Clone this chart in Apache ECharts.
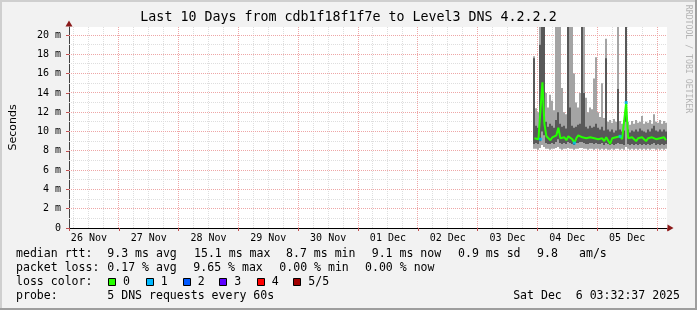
<!DOCTYPE html>
<html><head><meta charset="utf-8">
<script src="https://cdn.jsdelivr.net/npm/echarts@6/dist/echarts.min.js"></script>
<style>html,body{margin:0;padding:0;background:#f2f2f2}#c{width:697px;height:310px}</style>
</head><body><div id="c"></div>
<script>
// ---------------- data ----------------
const titleText = 'Last 10 Days from cdb1f18f1f7e to Level3 DNS 4.2.2.2';
const dayLabels = ['26 Nov','27 Nov','28 Nov','29 Nov','30 Nov','01 Dec','02 Dec','03 Dec','04 Dec','05 Dec'];
// hours since 26 Nov 00:00
const viewStartHour = 4;
const viewEndHour = 244;
const sampleStartHour = 190.8;
const sampleStepHours = 0.8;
// sorted pings per sample (ms)
const pingMin = [8.2,8.2,8.1,8.3,8.6,8.4,8.2,8.2,8.1,8.2, 8.2,8.3,8.4,8.2,8.1,8.2,8.2,8.3,8.2,8.2, 8.1,8.2,8.2,8.3,8.3,8.2,8.2,8.1,8.2,8.2, 8.1,8.2,8.2,8.1,8.2,8.1,8.2,8.1,8.1,8.2, 8.1,8.2,8.2,8.1,8.2,8.1,8.4,8.2,8.1,8.2, 8.1,8.2,8.1,8.2,8.1,8.2,8.1,8.2,8.1,8.2, 8.2,8.1,8.2,8.1,8.2,8.1,8.2];
const ping2 = [8.7,8.8,8.7,9.0,10.0,9.6,8.8,8.7,8.7,8.8, 8.7,8.9,9.2,8.8,8.7,8.8,8.7,8.9,8.8,8.7, 8.6,8.8,8.8,8.9,8.9,8.8,8.7,8.7,8.8,8.8, 8.7,8.8,8.7,8.7,8.8,8.6,8.8,8.7,8.6,8.7, 8.6,8.7,8.8,8.7,8.7,8.6,11.0,8.7,8.6,8.7, 8.6,8.7,8.6,8.7,8.6,8.7,8.6,8.7,8.6,8.7, 8.8,8.6,8.7,8.6,8.7,8.6,8.7];
const pingMedian = [9.3,9.4,9.2,9.2,15.1,10.8,9.5,9.3,9.1,9.4, 9.2,9.6,10.4,9.3,9.2,9.4,9.1,9.5,9.3,9.2, 8.8,9.3,9.6,9.8,9.4,9.2,9.3,9.1,9.4,9.2, 9.3,9.5,9.2,9.1,9.3,9.0,9.4,9.2,8.7,9.3, 9.1,9.4,9.3,9.5,9.2,9.0,13.0,9.3,9.1,9.4, 9.2,9.0,9.3,9.1,9.4,9.2,9.0,9.3,9.1,9.4, 9.6,9.2,9.0,9.3,9.2,9.4,9.1];
const ping4 = [17.6,10.6,10.4,19.0,24,24,11.0,10.5,10.8,10.6, 10.4,11.2,12.0,10.8,10.5,10.6,10.3,24,12.5,10.6, 10.4,10.5,10.7,10.8,24,14.0,10.5,10.3,10.6,10.4, 10.5,10.8,10.4,10.2,10.5,10.1,17.6,10.2,10.0,10.2, 9.9,10.1,14.4,10.2,10.0,10.1,24,10.2,9.9,10.1, 10.0,10.2,10.0,10.3,10.1,10.0,9.9,10.2,10.0,10.3, 10.6,10.1,10.0,10.2,10.0,10.2,10.0];
const pingMax = [17.8,12.4,12.0,24,24,24,14.0,12.5,13.8,13.2, 12.2,24,24,24,14.5,12.0,11.8,24,24,24, 16.0,13.0,12.5,14.0,24,24,13.5,12.0,12.5,12.3, 15.5,17.7,12.0,11.5,15.0,11.4,19.6,11.0,11.2,10.9, 11.3,11.0,24,11.1,10.8,11.2,24,11.0,10.7,11.1, 10.8,11.2,10.9,11.0,11.6,10.8,11.0,10.9,11.2,10.8, 11.8,11.0,10.9,11.2,10.8,11.1,10.9];
const lossCount = [0,0,0,1,0,0,0,0,0,0, 0,0,0,0,0,0,0,0,0,0, 1,0,0,0,0,0,0,0,0,0, 0,0,0,0,0,0,0,0,0,0, 0,0,0,1,0,0,1,0,0,0, 0,0,0,0,0,0,0,0,0,0, 0,0,0,0,0,0,0];
const lossLabels = ['0','1','2','3','4','5/5'];
const lossColors = ['#26ff00','#00b8ff','#0059ff','#5e00ff','#ff0000','#a10000'];
const medianStats = ['median rtt:','9.3 ms avg','15.1 ms max','8.7 ms min','9.1 ms now','0.9 ms sd','9.8','am/s'];
const lossStats = ['packet loss:','0.17 % avg','9.65 % max','0.00 % min','0.00 % now'];
const probeText = ['probe:','5 DNS requests every 60s'];
const dateText = 'Sat Dec  6 03:32:37 2025';
const yMaxMs = 20.83;

// ---------------- build ----------------
const sampleTimes = pingMin.map((_, i) => (sampleStartHour + i * sampleStepHours) / 24);
const stepDays = sampleStepHours / 24;
const xMin = viewStartHour / 24, xMax = viewEndHour / 24;
const pair = (arr) => arr.map((v, i) => [sampleTimes[i], v]);
const band = (lo, hi) => lo.map((v, i) => [sampleTimes[i], v, hi[i]]);

const MONO = '"DejaVu Sans Mono", monospace';
const legendFont = '11.55px ' + MONO;
const MINOR = '#dedede', MAJOR = '#eea6a6';

const chart = echarts.init(document.getElementById('c'), null, {renderer: 'canvas'});

const graphics = [];
graphics.push({type:'rect', shape:{x:0,y:0,width:697,height:2}, style:{fill:'#cfcfcf'}, silent:true});
graphics.push({type:'rect', shape:{x:0,y:0,width:2,height:310}, style:{fill:'#cfcfcf'}, silent:true});
graphics.push({type:'rect', shape:{x:0,y:308,width:697,height:2}, style:{fill:'#9e9e9e'}, silent:true});
graphics.push({type:'rect', shape:{x:695,y:0,width:2,height:310}, style:{fill:'#9e9e9e'}, silent:true});
graphics.push({type:'text', x:688, y:59, rotation:-Math.PI/2, silent:true,
  style:{text:'RRDTOOL / TOBI OETIKER', font:'8.2px ' + MONO, fill:'#b4b4b4', align:'center', verticalAlign:'middle'}});
const addText = (t, x, y, align) => graphics.push({type:'text', x:x, y:y, silent:true,
  style:{text:t, font:legendFont, fill:'#000', align:align || 'left', verticalAlign:'middle'}});
const medX = [16, 107.3, 194, 286, 371.7, 458, 537, 579];
medianStats.forEach((t, i) => addText(t, medX[i], 254));
const lossX = [16, 107.3, 193.3, 279.3, 365];
lossStats.forEach((t, i) => addText(t, lossX[i], 268));
addText('loss color:', 16, 282);
const boxX = [108, 145.7, 182.7, 219.3, 256.7, 293.3];
lossLabels.forEach((t, i) => {
  const bx = Math.round(boxX[i]);
  graphics.push({type:'rect', silent:true, shape:{x:bx + 0.5, y:278.5, width:7, height:7},
    style:{fill:lossColors[i], stroke:'#000', lineWidth:1}});
  addText(t, boxX[i] + 15, 282);
});
addText(probeText[0], 16, 296);
addText(probeText[1], 107.3, 296);
addText(dateText, 680, 296, 'right');

const hiddenAxis = {axisLine:{show:false}, axisTick:{show:false}, axisLabel:{show:false}, splitLine:{show:false}};

// dotted grid: every 6 h (midnight red) and every 1 m (even metres red), via the axis scales
function gridRender(params, api) {
  const cs = params.coordSys;
  const minor = [], major = [];
  for (let k = Math.ceil(xMin * 4); k <= Math.floor(xMax * 4); k++) {
    const x = api.coord([k / 4, 0])[0];
    if (x <= cs.x + 0.5 || x >= cs.x + cs.width - 0.5) continue;
    const px = Math.floor(x) + 0.5;
    (k % 4 === 0 ? major : minor).push({type: 'line', shape: {x1: px, y1: cs.y, x2: px, y2: cs.y + cs.height}});
  }
  for (let m = 1; m <= Math.floor(yMaxMs); m++) {
    const y = api.coord([xMin, m])[1];
    const py = Math.floor(y) + 0.5;
    (m % 2 === 0 ? major : minor).push({type: 'line', shape: {x1: cs.x, y1: py, x2: cs.x + cs.width, y2: py}});
  }
  const style = (c) => ({stroke: c, lineWidth: 1, lineDash: [1, 1], fill: null});
  return {type: 'group', children: minor.map(e => Object.assign(e, {style: style(MINOR)}))
    .concat(major.map(e => Object.assign(e, {style: style(MAJOR)})))};
}

function smokeRender(color) {
  return function (params, api) {
    const t = api.value(0), lo = api.value(1), hi = api.value(2);
    const cs = params.coordSys;
    const pA = api.coord([t - stepDays / 2, lo]);
    const pB = api.coord([t + stepDays / 2, hi]);
    const x0 = Math.round(Math.max(pA[0], cs.x)), x1 = Math.round(Math.min(pB[0], cs.x + cs.width));
    const yTop = Math.max(pB[1], cs.y), yBot = Math.min(pA[1], cs.y + cs.height);
    if (x1 <= x0 || yBot <= yTop) return null;
    return {type: 'rect', shape: {x: x0, y: yTop, width: x1 - x0, height: yBot - yTop},
      style: {fill: color}, silent: true};
  };
}

const option = {
  animation: false,
  backgroundColor: '#f2f2f2',
  textStyle: {fontFamily: MONO},
  title: {text: titleText, left: 'center', top: 11, padding: 0,
    textStyle: {fontFamily: MONO, fontSize: 13.3, fontWeight: 'normal', color: '#000'}},
  grid: {left: 67, top: 27, width: 600, height: 201, show: true, backgroundColor: '#ffffff', borderWidth: 0, containLabel: false},
  xAxis: [
    { // 0: data axis
      type: 'value', position: 'bottom', min: xMin, max: xMax, minInterval: 1, maxInterval: 1,
      axisLine: {show: true, onZero: false, lineStyle: {color: '#000', width: 1}},
      axisTick: {show: true, length: 3, lineStyle: {color: '#c05050'}},
      axisLabel: {show: false}, splitLine: {show: false}
    },
    { // 1: day labels at noon (axis shifted by half a day)
      type: 'value', position: 'bottom', min: xMin - 0.5, max: xMax - 0.5, minInterval: 1, maxInterval: 1,
      axisLine: {show: false, onZero: false}, axisTick: {show: false}, splitLine: {show: false},
      axisLabel: {show: true, showMinLabel: false, showMaxLabel: false, margin: 5,
        formatter: (v) => { const k = Math.round(v); return (Math.abs(v - k) < 1e-6 && dayLabels[k]) ? dayLabels[k] : ''; },
        fontFamily: MONO, fontSize: 10, color: '#000'}
    },
    Object.assign({type: 'value', position: 'bottom', min: xMin, max: xMax}, hiddenAxis, {
      axisLine: {show: true, onZero: false, symbol: ['none', 'triangle'], symbolSize: [7, 6], symbolOffset: [0, 3.5],
        lineStyle: {color: '#8b1a1a', opacity: 0}}
    })
  ],
  yAxis: [
    { // 0: data axis
      type: 'value', position: 'left', min: 0, max: yMaxMs, minInterval: 2, maxInterval: 2,
      name: 'Seconds', nameLocation: 'middle', nameRotate: 90, nameGap: 50,
      nameTextStyle: {fontFamily: '"DejaVu Sans", sans-serif', fontSize: 11, color: '#000'},
      axisLine: {show: true, onZero: false, lineStyle: {color: '#404040'}},
      axisTick: {show: true, length: 3, lineStyle: {color: '#c05050'}},
      axisLabel: {margin: 8, showMaxLabel: false, fontFamily: MONO, fontSize: 10, color: '#000',
        formatter: (v) => v === 0 ? '0' : (Math.round(v) + ' m')},
      splitLine: {show: false}
    },
    Object.assign({type: 'value', position: 'left', min: 0, max: yMaxMs}, hiddenAxis, {
      axisLine: {show: true, onZero: false, symbol: ['none', 'triangle'], symbolSize: [7, 6], symbolOffset: [0, 3.5],
        lineStyle: {color: '#8b1a1a', opacity: 0}}
    })
  ],
  graphic: graphics,
  series: [
    {name: 'grid', type: 'custom', xAxisIndex: 0, yAxisIndex: 0, renderItem: gridRender,
      data: [[xMin, 0]], encode: {x: 0, y: 1}, silent: true, z: 1},
    {name: 'smokeOuter', type: 'custom', xAxisIndex: 0, yAxisIndex: 0, renderItem: smokeRender('#a4a4a4'),
      data: band(pingMin, pingMax), encode: {x: 0, y: [1, 2]}, silent: true, z: 2},
    {name: 'smokeInner', type: 'custom', xAxisIndex: 0, yAxisIndex: 0, renderItem: smokeRender('#585858'),
      data: band(ping2, ping4), encode: {x: 0, y: [1, 2]}, silent: true, z: 3},
    {name: 'median', type: 'line', xAxisIndex: 0, yAxisIndex: 0, data: pair(pingMedian), showSymbol: false,
      lineStyle: {color: lossColors[0], width: 2}, silent: true, z: 4},
    {name: 'loss', type: 'scatter', xAxisIndex: 0, yAxisIndex: 0, symbol: 'rect', symbolSize: 3,
      data: pingMedian.map((v, i) => lossCount[i] > 0 ? [sampleTimes[i], v] : null).filter(Boolean),
      itemStyle: {color: lossColors[1]}, silent: true, z: 5}
  ]
};
chart.setOption(option);
</script>
</body></html>
